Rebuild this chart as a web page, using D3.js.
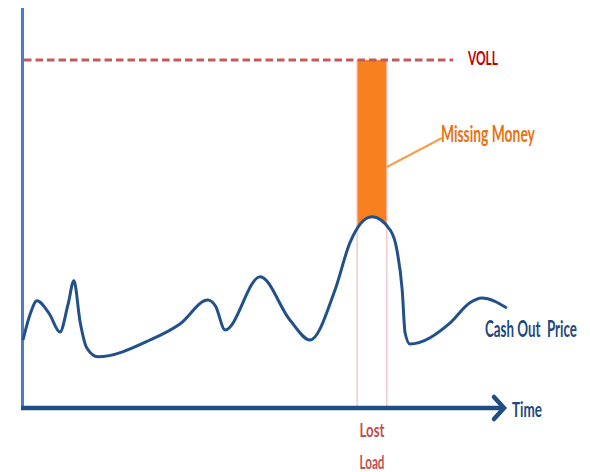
<!DOCTYPE html>
<html>
<head>
<meta charset="utf-8">
<script src="https://cdn.jsdelivr.net/npm/d3@7"></script>
<style>
  html, body { margin: 0; padding: 0; background: #fff; }
  svg { display: block; }
  text { font-family: Lato, "Open Sans", sans-serif; font-weight: bold; white-space: pre; }
</style>
</head>
<body>
<svg id="chart" width="590" height="472"></svg>
<script>
// ---- data (time 0..100, price 0..100) ----
const time  = [0, 1.5, 2.9, 5.5, 7.7, 9.4, 10.6, 11.9, 13.3, 15.6, 26.5, 32.7, 38.5, 40.1, 42.1, 49.4, 55.6, 59.8, 65.0, 68.1, 72.7, 76.5, 77.9, 79.0, 79.6, 80.6, 89.0, 93.1, 95.6, 100.8];
const price = [17, 23.5, 26.8, 23.5, 19, 26, 31.8, 21.5, 15, 12.8, 17, 21, 27, 25.5, 19.5, 32.8, 22, 17, 29.5, 41.3, 47.8, 44.5, 39.5, 29.5, 18.8, 16, 21.3, 26.3, 27.5, 25];
const voll = 87;
const lostLoad = [69.6, 75.8];
const labels = { voll: "VOLL", missing: "Missing Money", cashOut: "Cash Out  Price", time: "Time", lost: ["Lost", "Load"] };

const points = time.map((t, i) => ({ t, p: price[i] }));

const svg = d3.select("#chart");
const x = d3.scaleLinear().domain([0, 100]).range([23, 503]);
const y = d3.scaleLinear().domain([0, 100]).range([408, 8]);
const curve = d3.curveMonotoneX;

// Missing money fill: between VOLL and curve, clipped to lost-load band
svg.append("clipPath").attr("id", "band")
  .append("rect")
  .attr("x", x(lostLoad[0])).attr("y", 0)
  .attr("width", x(lostLoad[1]) - x(lostLoad[0])).attr("height", 472);

svg.append("path")
  .datum(points)
  .attr("clip-path", "url(#band)")
  .attr("fill", "#f7801f")
  .attr("d", d3.area().x(d => x(d.t)).y0(y(voll)).y1(d => y(d.p)).curve(curve));

// Lost load vertical lines
svg.selectAll(".ll").data(lostLoad).join("line")
  .attr("x1", d => x(d)).attr("x2", d => x(d))
  .attr("y1", y(voll)).attr("y2", y(0))
  .attr("stroke", "#eebcbc").attr("stroke-width", 1.2);

// VOLL dashed line
svg.append("line")
  .attr("x1", x(0) + 1).attr("x2", 453)
  .attr("y1", y(voll)).attr("y2", y(voll))
  .attr("stroke", "#c55a5a").attr("stroke-width", 3.2)
  .attr("stroke-dasharray", "7.5 4");

// Y axis
svg.append("line")
  .attr("x1", x(0) - 0.5).attr("x2", x(0) - 0.5)
  .attr("y1", y(100)).attr("y2", y(0) + 1)
  .attr("stroke", "#4a7ebf").attr("stroke-width", 3);

// X axis with arrow
svg.append("line")
  .attr("x1", x(0) - 2).attr("x2", 502)
  .attr("y1", y(0)).attr("y2", y(0))
  .attr("stroke", "#1f4e84").attr("stroke-width", 4.5);
svg.append("path")
  .attr("d", `M${494},${y(0) - 11} L${504},${y(0)} L${494},${y(0) + 11}`)
  .attr("fill", "none").attr("stroke", "#1f4e84").attr("stroke-width", 4.5)
  .attr("stroke-linecap", "round").attr("stroke-linejoin", "miter");

// Price curve
svg.append("path")
  .datum(points)
  .attr("fill", "none")
  .attr("stroke", "#22508a").attr("stroke-width", 3)
  .attr("d", d3.line().x(d => x(d.t)).y(d => y(d.p)).curve(curve));

// Leader line for Missing Money
svg.append("line")
  .attr("x1", x(lostLoad[1])).attr("y1", 167)
  .attr("x2", 442).attr("y2", 138)
  .attr("stroke", "#f6a04e").attr("stroke-width", 2.2);

// Texts: horizontally condensed to the target width via a scale transform
function txt(str, xx, yy, size, color, len, anchor) {
  const t = svg.append("text").text(str)
    .attr("x", 0).attr("y", 0)
    .attr("font-size", size).attr("fill", color)
    .attr("text-anchor", anchor || "start");
  const w = t.node().getComputedTextLength();
  const sx = w > 0 ? len / w : 1;
  t.attr("transform", `translate(${xx},${yy}) scale(${sx},1)`);
}
txt(labels.voll, 468, 65, 19, "#c00000", 30);
txt(labels.missing, 441, 142, 22, "#e8720f", 94);
txt(labels.cashOut, 485, 337, 22, "#1f497d", 92);
txt(labels.time, 512, 417, 20, "#1f497d", 30);
const llc = (x(lostLoad[0]) + x(lostLoad[1])) / 2;
txt(labels.lost[0], llc, 437, 19, "#c0504d", 25, "middle");
txt(labels.lost[1], llc, 469, 19, "#c0504d", 25, "middle");
</script>
</body>
</html>
